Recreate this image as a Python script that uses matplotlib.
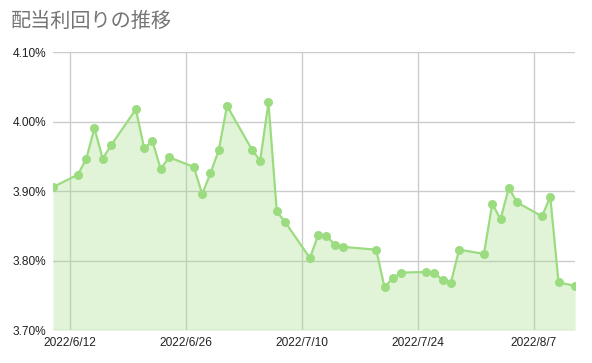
import matplotlib
matplotlib.use("Agg")
import matplotlib.pyplot as plt
import pandas as pd

# dates (trading days) and dividend yield (%)
dates = ["2022-06-10", "2022-06-13", "2022-06-14", "2022-06-15", "2022-06-16", "2022-06-17",
         "2022-06-20", "2022-06-21", "2022-06-22", "2022-06-23", "2022-06-24",
         "2022-06-27", "2022-06-28", "2022-06-29", "2022-06-30", "2022-07-01",
         "2022-07-04", "2022-07-05", "2022-07-06", "2022-07-07", "2022-07-08",
         "2022-07-11", "2022-07-12", "2022-07-13", "2022-07-14", "2022-07-15",
         "2022-07-19", "2022-07-20", "2022-07-21", "2022-07-22",
         "2022-07-25", "2022-07-26", "2022-07-27", "2022-07-28", "2022-07-29",
         "2022-08-01", "2022-08-02", "2022-08-03", "2022-08-04", "2022-08-05",
         "2022-08-08", "2022-08-09", "2022-08-10", "2022-08-12"]
yields = [3.906, 3.924, 3.946, 3.991, 3.947, 3.966,
          4.018, 3.962, 3.972, 3.932, 3.949,
          3.935, 3.896, 3.926, 3.959, 4.023,
          3.960, 3.944, 4.028, 3.871, 3.856,
          3.804, 3.837, 3.836, 3.823, 3.820,
          3.816, 3.762, 3.775, 3.783,
          3.784, 3.783, 3.772, 3.768, 3.816,
          3.810, 3.882, 3.860, 3.905, 3.884,
          3.864, 3.892, 3.769, 3.764]

tick_dates = ["2022-06-12", "2022-06-26", "2022-07-10", "2022-07-24", "2022-08-07"]
tick_labels = ["2022/6/12", "2022/6/26", "2022/7/10", "2022/7/24", "2022/8/7"]
y_ticks = [3.70, 3.80, 3.90, 4.00, 4.10]

x = pd.to_datetime(dates)
line_color = "#9cdc80"

plt.rcParams['font.family'] = ['Liberation Sans', 'Noto Sans CJK JP', 'DejaVu Sans']

fig = plt.figure(figsize=(5.92, 3.63), dpi=100)
ax = fig.add_axes([0.0895, 0.090, 0.882, 0.766])

ax.fill_between(x, yields, 3.70, color=line_color, alpha=0.3, linewidth=0, zorder=2)
ax.plot(x, yields, color=line_color, linewidth=1.6, marker="o", markersize=6.5,
        markeredgewidth=0, zorder=3)

ax.set_xlim(pd.Timestamp("2022-06-10"), pd.Timestamp("2022-08-12"))
ax.set_ylim(3.70, 4.10)
ax.set_xticks(pd.to_datetime(tick_dates))
ax.set_xticklabels(tick_labels)
ax.set_yticks(y_ticks)
ax.set_yticklabels(["%.2f%%" % v for v in y_ticks])

ax.grid(True, color="#cccccc", linewidth=1, zorder=1)
ax.set_axisbelow(True)
for s in ax.spines.values():
    s.set_visible(False)
ax.tick_params(length=0, labelsize=8.6, colors="#222222")
ax.tick_params(axis="x", pad=5)
ax.tick_params(axis="y", pad=5)

fig.text(0.018, 0.94, "配当利回りの推移", fontsize=14.5, color="#757575",
         family=['Noto Sans CJK JP', 'DejaVu Sans'], va="center")

plt.savefig("out.png", dpi=100)
